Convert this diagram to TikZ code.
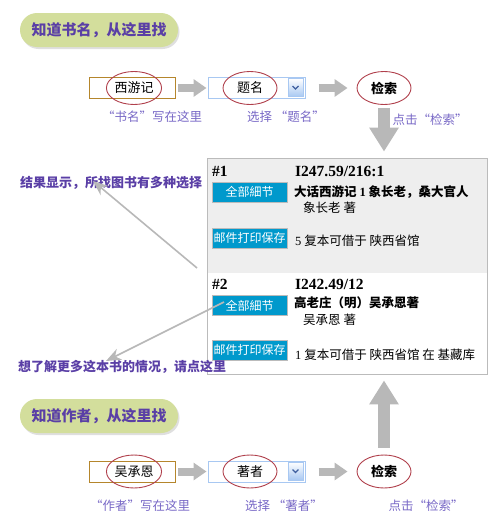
\documentclass[tikz,border=0pt]{standalone}
\usepackage{fontspec}
\setmainfont{Noto Sans CJK SC}
\newfontfamily\callno{Liberation Serif}
\usetikzlibrary{arrows.meta,shapes.geometric,shadows}
\definecolor{Pill}{HTML}{D3DE9C}
\definecolor{Violet}{HTML}{5A3FA6}
\definecolor{Lilac}{HTML}{7868C6}
\definecolor{Ring}{HTML}{B0404C}
\definecolor{Block}{HTML}{B8B8B8}
\definecolor{Frame}{HTML}{B5862C}
\definecolor{Sky}{HTML}{A8C8F2}
\definecolor{Chev}{HTML}{3F5F9F}
\definecolor{Btn}{HTML}{0099CC}
\definecolor{Shade}{HTML}{EEEEEE}
\definecolor{Edge}{HTML}{BBBBBB}
\tikzset{
  pill/.style={rounded corners=17pt,fill=Pill,minimum width=158pt,minimum height=34pt,
    font=\fontsize{15}{18}\selectfont\bfseries,text=Violet,
    drop shadow={shadow xshift=1.5pt,shadow yshift=-2pt,fill=black!25}},
  inbox/.style={draw=Frame,line width=.8pt,minimum width=86pt,minimum height=21pt,inner sep=0pt},
  selbox/.style={draw=Sky,line width=1pt,minimum width=97pt,minimum height=21pt,inner sep=0pt},
  dropbtn/.style={top color=white,bottom color=Sky,draw=Sky,minimum width=15pt,minimum height=18pt,inner sep=0pt},
  ring/.style={ellipse,draw=Ring,line width=.9pt,minimum width=54pt,minimum height=33pt,
    inner sep=0pt,font=\fontsize{13}{15}\selectfont},
  hint/.style={font=\fontsize{12.5}{15}\selectfont,text=Lilac},
  note/.style={font=\fontsize{13}{15}\selectfont\bfseries,text=Violet,inner sep=0pt,anchor=west},
  block/.style={draw=Block,line width=8pt,-{Triangle[width=17pt,length=13pt]}},
  tallblock/.style={draw=Block,line width=12pt,-{Triangle[width=28pt,length=24pt]}},
  pointer/.style={draw=Block,line width=1.6pt,-{Stealth[width=12pt,length=15pt]}},
  panel/.style={draw=Edge,line width=.8pt,minimum width=280pt,minimum height=216pt,inner sep=0pt},
  btn/.style={fill=Btn,draw=Edge,line width=.8pt,text=white,minimum width=75pt,minimum height=20pt,
    inner sep=0pt,font=\fontsize{12}{14}\selectfont},
  rec/.style={anchor=west,inner sep=0pt,font=\fontsize{12.5}{15}\selectfont},
  recb/.style={rec,font=\fontsize{12.5}{15}\selectfont\bfseries},
  recno/.style={rec,font=\fontsize{15.5}{18}\selectfont\callno\bfseries}
}

\begin{document}
\begin{tikzpicture}[x=1pt,y=-1pt]
  \useasboundingbox (0,0) rectangle (500,530);
  % search by title
  \node[pill] (head1) at (99,30) {知道书名，从这里找};
  \node[inbox] (box1) at (132,88) {};
  \node[ring] (name1) at (134,88) {西游记};
  \node[selbox] (sel1) at (256.5,88) {};
  \node[dropbtn] (dd1) at (295.5,87.5) {};
  \draw[Chev,line width=1.2pt] ([shift={(-3,-1.5)}]dd1.center) -- ([shift={(0,1.5)}]dd1.center) -- ([shift={(3,-1.5)}]dd1.center);
  \node[ring] (field1) at (250,88) {题名};
  \node[ring] (go1) at (384,88) {\bfseries 检索};
  \node[hint] (hint1a) at (152,117) {“书名”写在这里};
  \node[hint] (hint1b) at (286,117) {选择\ “题名”};
  \node[hint] (hint1c) at (430,120) {点击“检索”};
  \draw[block,shorten <=3pt,shorten >=1pt] (box1) -- (sel1);
  \draw[block,shorten <=13pt,shorten >=9pt] (sel1) -- (go1);

  % result list
  \fill[Shade] (207,158) rectangle (487,273);
  \node[panel] (res) at (347,266) {};
  \draw[tallblock,shorten <=3pt,shorten >=6pt] (go1) -- (go1 |- res.north);

  \node[recno] (n1) at (212,171) {\#1};
  \node[recno] (call1) at (295,171) {I247.59/216:1};
  \node[btn] (more1) at (249.5,192) {全部細节};
  \node[recb] (title1) at (294,192) {大话西游记\ {\callno 1} 象长老，桑大官人};
  \node[rec] (auth1) at (303,208) {象长老\ 著};
  \node[btn] (mail1) at (249.5,238) {邮件打印保存};
  \node[rec] (copy1) at (295,241) {{\callno 5} 复本可借于\ 陕西省馆};

  \node[recno] (n2) at (212,284) {\#2};
  \node[recno] (call2) at (295,284) {I242.49/12};
  \node[btn] (more2) at (249.5,305.5) {全部細节};
  \node[recb] (title2) at (294,303) {高老庄（明）吴承恩著};
  \node[rec] (auth2) at (303,320) {吴承恩\ 著};
  \node[btn] (mail2) at (249.5,350) {邮件打印保存};
  \node[rec] (copy2) at (295,355) {{\callno 1} 复本可借于\ 陕西省馆\ 在\ 基藏库};

  \node[note] (tip1) at (20,183) {结果显示，所找图书有多种选择};
  \node[note] (tip2) at (18,367) {想了解更多这本书的情况，请点这里};
  \coordinate (from1) at (197,268);
  \coordinate (to1) at (93,181);
  \coordinate (from2) at (224,302);
  \coordinate (to2) at (106,361);
  \draw[pointer] (from1) -- (to1);
  \draw[pointer] (from2) -- (to2);

  % search by author
  \node[pill] (head2) at (99,416) {知道作者，从这里找};
  \node[inbox] (box2) at (132,471.5) {};
  \node[ring] (name2) at (134,471.5) {吴承恩};
  \node[selbox] (sel2) at (256.5,471.5) {};
  \node[dropbtn] (dd2) at (295.5,471) {};
  \draw[Chev,line width=1.2pt] ([shift={(-3,-1.5)}]dd2.center) -- ([shift={(0,1.5)}]dd2.center) -- ([shift={(3,-1.5)}]dd2.center);
  \node[ring] (field2) at (250,471.5) {著者};
  \node[ring] (go2) at (384,471.5) {\bfseries 检索};
  \node[hint] (hint2a) at (140,506) {“作者”写在这里};
  \node[hint] (hint2b) at (284,506) {选择\ “著者”};
  \node[hint] (hint2c) at (426,506) {点击“检索”};
  \draw[block,shorten <=3pt,shorten >=1pt] (box2) -- (sel2);
  \draw[block,shorten <=13pt,shorten >=9pt] (sel2) -- (go2);
  \draw[tallblock,shorten <=7pt,shorten >=6pt] (go2) -- (go2 |- res.south);
\end{tikzpicture}
\end{document}
